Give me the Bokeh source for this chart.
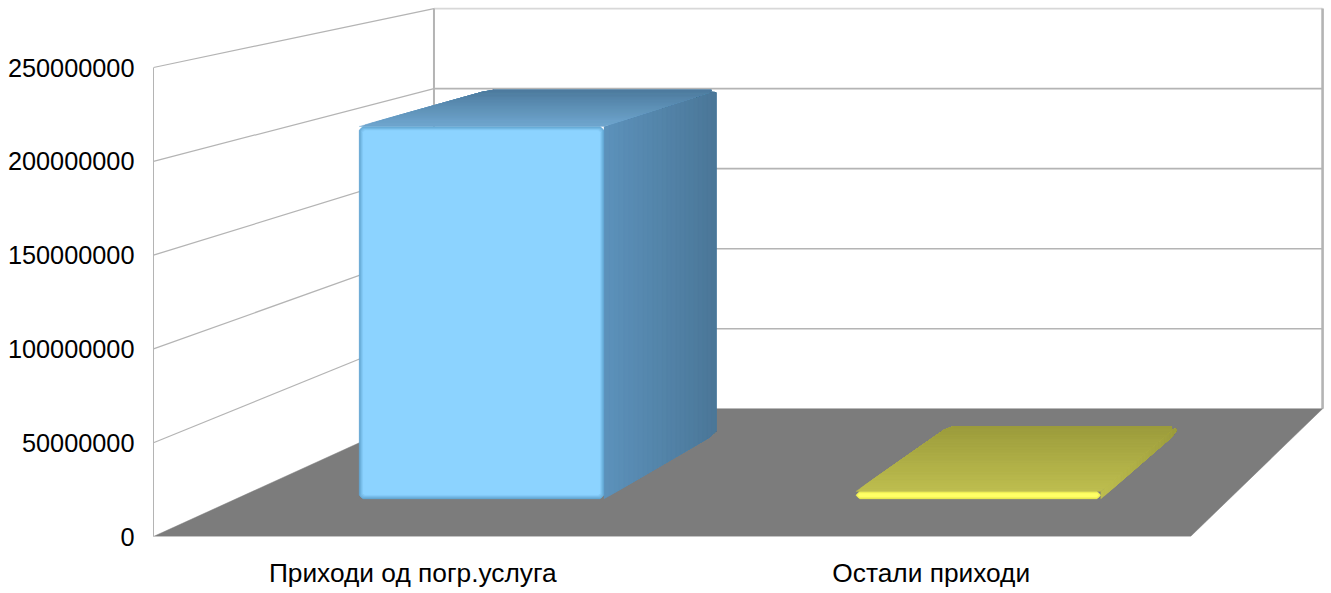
from bokeh.plotting import figure
from bokeh.models import Range1d, FixedTicker
from bokeh.embed import file_html
from bokeh.resources import INLINE

categories = ["Приходи од погр.услуга", "Остали приходи"]
values = [207500000, 4200000]
tick_values = [0, 50000000, 100000000, 150000000, 200000000, 250000000]
tick_labels = ["0", "50000000", "100000000", "150000000", "200000000", "250000000"]

FONT = "Liberation Sans"
W, H = 1331, 593
LEFT, BOTTOM = 153, 57
PX_X = 518.5                      # pixels per category
PX_Y = 469.0 / 250000000          # pixels per value unit
X_MAX = (W - LEFT) / PX_X
Y_MAX = (H - BOTTOM) / PX_Y

# perspective of the 3D box
KX, KY = 0.167, 0.172
VX, VV = 3.78, 464000000
D0, D1 = 0.262, 0.78              # bar depth
X_DEPTH = 0.965                   # bars recede a little less in x than in y
BAR_W = 0.493
BAR_OFF = 0.2485


def proj(x, v, d):
    sx = 1 / (1 + KX * d)
    sy = 1 / (1 + KY * d)
    return x * sx + VX * (1 - sx), v * sy + VV * (1 - sy)


def bproj(x, v, d):
    px, _ = proj(x, v, D0 + (d - D0) * X_DEPTH)
    _, py = proj(x, v, d)
    return px, py


def lerp(a, b, t):
    return a + (b - a) * t


def mix(c0, c1, t):
    a = [int(c0[i:i + 2], 16) for i in (1, 3, 5)]
    b = [int(c1[i:i + 2], 16) for i in (1, 3, 5)]
    return "#%02x%02x%02x" % tuple(round(lerp(p, q, t)) for p, q in zip(a, b))


p = figure(width=W, height=H, output_backend="svg", toolbar_location=None,
           x_range=Range1d(0, X_MAX), y_range=Range1d(0, Y_MAX),
           min_border_left=LEFT, min_border_bottom=BOTTOM, min_border_top=0, min_border_right=0,
           outline_line_color=None, background_fill_color="white", border_fill_color="white")
p.grid.visible = False

# walls
WALL = "#b4b4b4"
for i, v in enumerate(tick_values):
    x0, y0 = proj(0, v, 0)
    x1, y1 = proj(0, v, 1)
    x2, y2 = proj(2, v, 1)
    if v > 0:
        p.line([x0, x1], [y0, y1], line_color=WALL, line_width=1.2)
        p.line([x1, x2], [y1, y2], line_color="#d8d8d8" if v == tick_values[-1] else WALL, line_width=1.6)
for cx, lw in ((0, 2), (2, 2.6)):
    xa, ya = proj(cx, 0, 1)
    xb, yb = proj(cx, tick_values[-1], 1)
    p.line([xa, xb], [ya, yb], line_color=WALL, line_width=lw)

# floor
fx, fy = zip(*[proj(0, 0, 0), proj(2, 0, 0), proj(2, 0, 1), proj(0, 0, 1)])
p.patch(list(fx), list(fy), fill_color="#7c7c7c", line_color="#7c7c7c", line_width=0.5)


def chamfer_rect(x0, x1, v0, v1, d, inset_px, r_px):
    """Front rectangle, inset and with cut corners, sizes in pixels."""
    ix, iv = inset_px / PX_X, inset_px / PX_Y
    rx, rv = r_px / PX_X, r_px / PX_Y
    a, b, c, e = x0 + ix, x1 - ix, v0 + iv, v1 - iv
    pts = [(a + rx, c), (b - rx, c), (b, c + rv), (b, e - rv), (b - rx, e), (a + rx, e), (a, e - rv), (a, c + rv)]
    return zip(*[proj(x, v, d) for x, v in pts])


def bar(i, value, top_front, top_back, side_front, side_back, face, edge, levels):
    x0 = i + BAR_OFF
    x1 = x0 + BAR_W
    n = 24
    rx, rv = 5 / PX_X, 5 / PX_Y
    dr = 0.03
    # right side, front to back
    for k in range(n):
        t = k / n
        d = lerp(D0, D1, t)
        pts = [bproj(x1, 0, d), bproj(x1, 0, D1 - dr), bproj(x1, rv * 0.5, D1), bproj(x1, value - rv * 0.5, D1),
               bproj(x1, value, D1 - dr), bproj(x1, value, d)]
        xs, ys = zip(*pts)
        c = mix(side_front, side_back, t)
        p.patch(list(xs), list(ys), fill_color=c, line_color=c, line_width=0.3)
    # top, front to back
    for k in range(n):
        t = k / n
        d = lerp(D0, D1, t)
        pts = [bproj(x0, value, d), bproj(x1, value, d), bproj(x1, value, D1 - dr), bproj(x1 - rx, value, D1),
               bproj(x0 + rx, value, D1), bproj(x0, value, D1 - dr)]
        xs, ys = zip(*pts)
        c = mix(top_front, top_back, t)
        p.patch(list(xs), list(ys), fill_color=c, line_color=c, line_width=0.3)
    # front, with a soft bevel
    for k in range(levels):
        t = k / max(levels - 1, 1)
        xs, ys = chamfer_rect(x0, x1, 0, value, D0, k, 4 if k == 0 else 2)
        c = mix(edge, face, t)
        p.patch(list(xs), list(ys), fill_color=c, line_color=c, line_width=0.3)


bar(0, values[0], "#6fa6cf", "#4d7a9d", "#5c91ba", "#4a7697", "#8cd3ff", "#63a6d2", 5)
bar(1, values[1], "#bdbd4f", "#9b9b3b", "#bdbd4f", "#9b9b3b", "#ffff66", "#e6e650", 3)

# axes
ya = p.yaxis[0]
ya.ticker = FixedTicker(ticks=tick_values)
ya.major_label_overrides = dict(zip(tick_values, tick_labels))
ya.bounds = (0, tick_values[-1])
ya.axis_line_color = WALL
ya.axis_line_width = 1
ya.major_tick_line_color = None
ya.minor_tick_line_color = None
ya.major_tick_in = 0
ya.major_tick_out = 0
ya.major_label_standoff = 19
ya.major_label_text_font = FONT
ya.major_label_text_font_size = "25.3px"
ya.major_label_text_color = "#000000"

xa = p.xaxis[0]
xa.ticker = FixedTicker(ticks=[0.5, 1.5])
xa.major_label_overrides = {0.5: categories[0], 1.5: categories[1]}
xa.bounds = (0, 2)
xa.axis_line_color = "#c4c4c4"
xa.axis_line_width = 1
xa.major_tick_line_color = None
xa.minor_tick_line_color = None
xa.major_tick_in = 0
xa.major_tick_out = 0
xa.major_label_standoff = 21
xa.major_label_text_font = FONT
xa.major_label_text_font_size = "26.3px"
xa.major_label_text_color = "#000000"

open("out.html", "w").write(file_html(p, INLINE))
